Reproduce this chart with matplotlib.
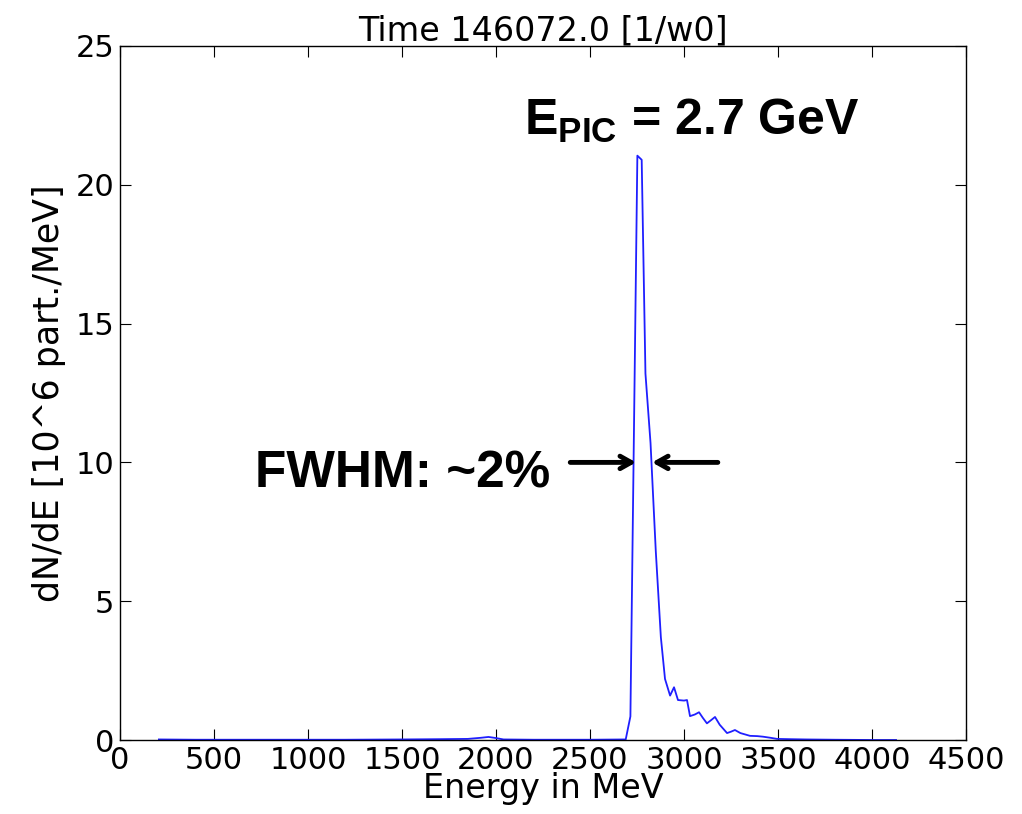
import matplotlib.pyplot as plt

# energia (MeV) y dN/dE [10^6 part./MeV]
energy = [207, 400, 800, 1200, 1500, 1700, 1850, 1920, 1960, 2000, 2040, 2200, 2500, 2690,
          2715, 2752, 2775, 2795, 2822, 2850, 2877, 2899, 2926, 2947, 2968, 3000, 3016,
          3032, 3058, 3080, 3100, 3122, 3145, 3165, 3190, 3229, 3250, 3271, 3300, 3351,
          3390, 3420, 3460, 3495, 3564, 3650, 3800, 4000, 4128]
dnde = [0.02, 0.01, 0.01, 0.01, 0.02, 0.03, 0.04, 0.08, 0.11, 0.07, 0.02, 0.01, 0.01, 0.02,
        0.85, 21.05, 20.9, 13.2, 10.7, 6.8, 3.7, 2.2, 1.6, 1.9, 1.44, 1.42, 1.44,
        0.86, 0.92, 1.0, 0.8, 0.6, 0.72, 0.83, 0.55, 0.25, 0.3, 0.36, 0.25, 0.15,
        0.14, 0.12, 0.08, 0.04, 0.03, 0.02, 0.01, 0.0, 0.0]

xticks = [0, 500, 1000, 1500, 2000, 2500, 3000, 3500, 4000, 4500]
yticks = [0, 5, 10, 15, 20, 25]

fig = plt.figure(figsize=(10.22, 8.14), dpi=100)
ax = fig.add_axes([0.1174, 0.0909, 0.8278, 0.8526])

ax.plot(energy, dnde, color='#1f1fff', lw=1.3)

ax.set_xlim(0, 4500)
ax.set_ylim(0, 25)
ax.set_xticks(xticks)
ax.set_yticks(yticks)
ax.tick_params(direction='in', top=True, right=True, length=8, width=0.8,
               labelsize=22, pad=4)
for s in ax.spines.values():
    s.set_linewidth(1.0)

ax.set_title('Time 146072.0 [1/w0]', fontsize=24, pad=4)
ax.set_xlabel('Energy in MeV', fontsize=24, labelpad=-2)
ax.set_ylabel('dN/dE [10^6 part./MeV]', fontsize=25, labelpad=7)

# anotaciones
bold = dict(family='Liberation Sans', fontweight='bold', color='black')
ax.text(2150, 21.8, r'E$_\mathregular{PIC}$ = 2.7 GeV', fontsize=36, **bold)
ax.text(720, 9.1, 'FWHM: ~2%', fontsize=37, **bold)

arrow = dict(arrowstyle='->, head_length=0.8, head_width=0.45', lw=3.5, color='black',
             shrinkA=0, shrinkB=0)
ax.annotate('', xy=(2745, 10), xytext=(2395, 10), arrowprops=arrow)
ax.annotate('', xy=(2830, 10), xytext=(3180, 10), arrowprops=arrow)

fig.savefig('out.png', dpi=100)
